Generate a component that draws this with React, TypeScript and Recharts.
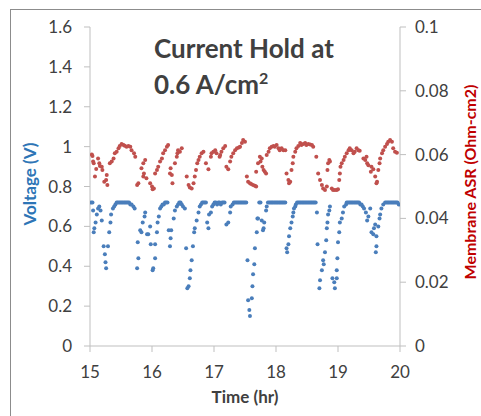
import { Scatter, ScatterChart, XAxis, YAxis } from "recharts";

// time (hr), cell voltage (V)
const voltagePoints: [number, number][] = [
  [15.02, 0.72], [15.04, 0.72], [15.05, 0.68], [15.06, 0.57], [15.07, 0.59], [15.09, 0.62], [15.11, 0.66], [15.13, 0.69], [15.15, 0.7], [15.17, 0.68], [15.19, 0.63],
  [15.22, 0.5], [15.24, 0.46], [15.25, 0.42], [15.26, 0.39], [15.29, 0.5], [15.31, 0.57], [15.33, 0.62], [15.34, 0.66], [15.37, 0.69], [15.39, 0.7], [15.41, 0.71],
  [15.43, 0.72], [15.45, 0.72], [15.47, 0.72], [15.49, 0.72], [15.51, 0.72], [15.53, 0.72], [15.55, 0.72], [15.57, 0.72], [15.59, 0.72], [15.61, 0.72], [15.63, 0.72], [15.65, 0.71], [15.67, 0.71], [15.7, 0.7], [15.72, 0.69],
  [15.76, 0.39], [15.77, 0.52], [15.78, 0.44], [15.81, 0.58], [15.83, 0.57], [15.85, 0.62], [15.88, 0.65], [15.89, 0.67], [15.92, 0.56], [15.94, 0.56], [15.97, 0.6], [15.98, 0.51],
  [16.01, 0.38], [16.02, 0.39], [16.05, 0.44], [16.05, 0.51], [16.08, 0.57], [16.09, 0.62], [16.11, 0.65], [16.13, 0.69], [16.15, 0.7], [16.17, 0.71], [16.19, 0.71], [16.21, 0.72], [16.23, 0.72], [16.25, 0.72],
  [16.27, 0.58], [16.29, 0.5], [16.3, 0.54], [16.31, 0.58], [16.35, 0.64], [16.37, 0.68], [16.4, 0.7], [16.42, 0.71], [16.44, 0.72], [16.46, 0.72], [16.48, 0.71], [16.5, 0.7], [16.53, 0.69],
  [16.55, 0.49], [16.57, 0.29], [16.59, 0.3], [16.61, 0.34], [16.62, 0.38], [16.64, 0.43], [16.66, 0.5], [16.68, 0.57], [16.69, 0.59], [16.72, 0.63], [16.75, 0.67], [16.77, 0.7], [16.79, 0.71], [16.81, 0.72], [16.83, 0.72], [16.85, 0.72], [16.87, 0.72],
  [16.89, 0.62], [16.91, 0.59], [16.92, 0.66], [16.95, 0.67], [16.97, 0.7], [16.99, 0.71], [17.01, 0.72], [17.03, 0.72], [17.05, 0.71], [17.07, 0.72], [17.09, 0.72], [17.11, 0.71], [17.13, 0.72], [17.15, 0.72], [17.17, 0.72],
  [17.2, 0.61], [17.23, 0.62], [17.26, 0.67], [17.27, 0.7], [17.3, 0.71], [17.32, 0.72], [17.34, 0.72], [17.36, 0.72], [17.38, 0.72], [17.4, 0.72], [17.42, 0.72], [17.44, 0.72], [17.46, 0.72], [17.48, 0.72], [17.5, 0.72], [17.52, 0.72],
  [17.54, 0.43], [17.55, 0.23], [17.57, 0.18], [17.58, 0.15], [17.61, 0.24], [17.62, 0.3], [17.63, 0.36], [17.65, 0.41], [17.66, 0.49], [17.69, 0.57], [17.7, 0.64], [17.71, 0.64], [17.73, 0.72], [17.75, 0.72],
  [17.77, 0.63], [17.79, 0.58], [17.8, 0.59], [17.81, 0.62], [17.84, 0.68], [17.85, 0.7], [17.87, 0.72], [17.89, 0.72], [17.91, 0.72], [17.93, 0.72], [17.95, 0.72], [17.97, 0.72], [17.99, 0.72], [18.01, 0.72], [18.03, 0.72], [18.05, 0.72], [18.07, 0.72], [18.09, 0.72], [18.11, 0.72], [18.13, 0.72], [18.15, 0.72],
  [18.17, 0.49], [18.18, 0.47], [18.2, 0.51], [18.21, 0.55], [18.23, 0.59], [18.25, 0.62], [18.27, 0.65], [18.28, 0.67], [18.29, 0.69], [18.31, 0.7], [18.32, 0.71], [18.34, 0.72], [18.36, 0.72], [18.38, 0.72], [18.4, 0.72], [18.42, 0.72], [18.44, 0.72], [18.46, 0.72], [18.48, 0.72], [18.5, 0.72], [18.52, 0.72], [18.54, 0.72], [18.56, 0.72], [18.58, 0.72], [18.6, 0.72], [18.62, 0.72], [18.64, 0.72],
  [18.66, 0.67], [18.67, 0.51], [18.7, 0.29], [18.71, 0.33], [18.74, 0.38], [18.76, 0.43], [18.77, 0.41], [18.79, 0.47], [18.81, 0.53], [18.82, 0.59], [18.83, 0.62], [18.84, 0.66], [18.86, 0.68], [18.87, 0.7],
  [18.91, 0.34], [18.94, 0.32], [18.95, 0.29], [18.98, 0.34], [18.98, 0.38], [18.99, 0.44], [19.0, 0.52], [19.02, 0.57], [19.03, 0.62], [19.06, 0.64], [19.08, 0.67], [19.1, 0.7], [19.13, 0.71], [19.14, 0.72],
  [19.16, 0.72], [19.18, 0.72], [19.2, 0.72], [19.22, 0.72], [19.24, 0.72], [19.26, 0.72], [19.28, 0.72], [19.3, 0.72], [19.32, 0.72], [19.34, 0.72], [19.36, 0.71], [19.38, 0.71], [19.4, 0.7],
  [19.42, 0.69], [19.45, 0.67], [19.47, 0.63], [19.49, 0.65], [19.52, 0.69], [19.54, 0.57], [19.57, 0.56], [19.58, 0.59], [19.6, 0.61], [19.62, 0.55], [19.61, 0.47], [19.62, 0.5], [19.65, 0.6], [19.67, 0.64], [19.68, 0.66], [19.7, 0.69], [19.73, 0.71], [19.76, 0.72],
  [19.78, 0.72], [19.8, 0.72], [19.82, 0.72], [19.84, 0.72], [19.86, 0.72], [19.88, 0.72], [19.9, 0.72], [19.92, 0.72], [19.94, 0.72], [19.96, 0.72], [19.98, 0.71],
];

// time (hr), membrane ASR (Ohm-cm2)
const asrPoints: [number, number][] = [
  [15.03, 0.06], [15.04, 0.0596], [15.05, 0.0578], [15.06, 0.0573], [15.08, 0.0531], [15.1, 0.0555], [15.13, 0.0588], [15.15, 0.0573], [15.16, 0.0564], [15.19, 0.0562], [15.2, 0.0552], [15.23, 0.0515], [15.26, 0.052], [15.27, 0.0536], [15.28, 0.0505],
  [15.32, 0.0573], [15.35, 0.0578], [15.38, 0.0588], [15.4, 0.0604], [15.43, 0.0609], [15.46, 0.062], [15.48, 0.0627], [15.51, 0.0633], [15.54, 0.063], [15.56, 0.0628], [15.59, 0.0625], [15.62, 0.0627], [15.65, 0.0625], [15.67, 0.0614], [15.71, 0.0604], [15.73, 0.0593],
  [15.76, 0.0505], [15.78, 0.051], [15.83, 0.0557], [15.86, 0.0573], [15.89, 0.0583], [15.86, 0.0531], [15.87, 0.0541], [15.91, 0.0526], [15.97, 0.051], [16.0, 0.05], [16.01, 0.0491], [16.03, 0.0494],
  [16.05, 0.0541], [16.08, 0.0552], [16.1, 0.0562], [16.13, 0.0578], [16.16, 0.0588], [16.18, 0.0604], [16.21, 0.0614], [16.24, 0.0625], [16.26, 0.063],
  [16.29, 0.0541], [16.3, 0.0557], [16.32, 0.0536], [16.33, 0.051], [16.37, 0.0573], [16.4, 0.0593], [16.41, 0.0604], [16.42, 0.0614], [16.45, 0.0609], [16.48, 0.062],
  [16.56, 0.0531], [16.59, 0.0505], [16.61, 0.0497], [16.64, 0.0494], [16.67, 0.051], [16.69, 0.0531], [16.71, 0.0552], [16.73, 0.0573], [16.75, 0.0583], [16.77, 0.0593], [16.8, 0.0604], [16.83, 0.0609],
  [16.87, 0.0573], [16.91, 0.0554], [16.95, 0.0593], [16.96, 0.0604], [16.99, 0.0609], [17.02, 0.0614], [17.04, 0.0604], [17.09, 0.0593], [17.1, 0.0599], [17.12, 0.0609], [17.15, 0.062], [17.18, 0.0627],
  [17.2, 0.0562], [17.23, 0.0554], [17.26, 0.0578], [17.28, 0.0593], [17.31, 0.0604], [17.34, 0.0614], [17.37, 0.062], [17.4, 0.0622], [17.42, 0.0625], [17.45, 0.0636], [17.47, 0.0646], [17.5, 0.064],
  [17.53, 0.0531], [17.55, 0.0515], [17.58, 0.051], [17.6, 0.0508], [17.63, 0.0505], [17.66, 0.0502], [17.68, 0.05], [17.68, 0.0546], [17.71, 0.0573], [17.74, 0.0593], [17.75, 0.0578], [17.77, 0.0588], [17.78, 0.0562], [17.8, 0.0552], [17.82, 0.0546], [17.84, 0.0541],
  [17.85, 0.0599], [17.88, 0.0609], [17.9, 0.062], [17.93, 0.0625], [17.96, 0.0627], [17.98, 0.0625], [18.01, 0.063], [18.04, 0.062], [18.06, 0.0614], [18.09, 0.062], [18.12, 0.0614], [18.15, 0.0614],
  [18.17, 0.0541], [18.2, 0.052], [18.21, 0.051], [18.23, 0.0515], [18.25, 0.0552], [18.27, 0.0573], [18.28, 0.0593], [18.31, 0.0609], [18.33, 0.062], [18.36, 0.0627], [18.39, 0.0636], [18.41, 0.063], [18.44, 0.0633], [18.47, 0.0636], [18.49, 0.063], [18.52, 0.0633], [18.55, 0.0632], [18.58, 0.063], [18.6, 0.0625], [18.65, 0.0593],
  [18.68, 0.0541], [18.71, 0.052], [18.74, 0.0505], [18.76, 0.0494], [18.79, 0.0489], [18.82, 0.05], [18.83, 0.0552], [18.84, 0.0573], [18.86, 0.0583], [18.87, 0.0578],
  [18.9, 0.0494], [18.92, 0.0489], [18.95, 0.0489], [18.98, 0.0489], [19.0, 0.0491], [19.02, 0.052], [19.03, 0.0541], [19.04, 0.0562], [19.06, 0.0573], [19.09, 0.0583], [19.11, 0.0593], [19.14, 0.0604], [19.17, 0.0614], [19.19, 0.062], [19.22, 0.0614], [19.25, 0.0604], [19.27, 0.0609], [19.3, 0.062], [19.33, 0.0614], [19.35, 0.0612],
  [19.41, 0.0588], [19.44, 0.0583], [19.46, 0.0593], [19.47, 0.0573], [19.49, 0.0567], [19.53, 0.0546], [19.54, 0.0562], [19.57, 0.0554], [19.6, 0.0531], [19.62, 0.051], [19.63, 0.0515],
  [19.65, 0.0552], [19.67, 0.0573], [19.68, 0.0588], [19.71, 0.0604], [19.73, 0.0614], [19.76, 0.0625], [19.79, 0.0633], [19.81, 0.064], [19.84, 0.0646], [19.87, 0.064], [19.89, 0.062], [19.92, 0.0609], [19.95, 0.0606],
];

const timeTicks = [15, 16, 17, 18, 19, 20];
const voltageTicks = [0, 0.2, 0.4, 0.6, 0.8, 1, 1.2, 1.4, 1.6];
const asrTicks = [0, 0.02, 0.04, 0.06, 0.08, 0.1];

const FONT = "Lato, 'Open Sans', sans-serif";
const BLUE = "#4a7ebb";
const RED = "#c0504d";
const AXIS = "#bfbfbf";
const TEXT = "#404040";

const voltageData = voltagePoints.map(([t, v]) => ({ t, v }));
const asrData = asrPoints.map(([t, r]) => ({ t, r }));

const dot = (fill: string) => (p: any) =>
  <circle cx={p.cx} cy={p.cy} r={2} fill={fill} />;

const tick = { fontSize: 17, fill: TEXT, fontFamily: FONT };

export default function App() {
  return (
    <div style={{ position: "absolute", left: 0, top: 0, width: 481, height: 416, overflow: "hidden", background: "#fff" }}>
      <div
        style={{
          position: "absolute",
          left: 10,
          top: 9,
          width: 500,
          height: 440,
          border: "1px solid #8c8c8c",
        }}
      />
      <ScatterChart
        width={481}
        height={416}
        margin={{ top: 27, right: 0, bottom: 30, left: 0 }}
        style={{ position: "absolute", left: 0, top: 0 }}
      >
        <XAxis
          type="number"
          dataKey="t"
          domain={[15, 20]}
          ticks={timeTicks}
          height={40}
          stroke={AXIS}
          tickMargin={14}
          tick={tick}
          allowDataOverflow
        />
        <YAxis
          yAxisId="v"
          type="number"
          dataKey="v"
          domain={[0, 1.6]}
          ticks={voltageTicks}
          width={90}
          stroke={AXIS}
          tickMargin={12}
          tick={tick}
        />
        <YAxis
          yAxisId="r"
          orientation="right"
          type="number"
          dataKey="r"
          domain={[0, 0.1]}
          ticks={asrTicks}
          width={81}
          stroke={AXIS}
          tickMargin={9}
          tick={tick}
        />
        <Scatter
          yAxisId="v"
          data={voltageData}
          fill={BLUE}
          shape={dot(BLUE)}
          isAnimationActive={false}
        />
        <Scatter
          yAxisId="r"
          data={asrData}
          fill={RED}
          shape={dot(RED)}
          isAnimationActive={false}
        />
      </ScatterChart>
      <svg
        width={481}
        height={416}
        style={{ position: "absolute", left: 0, top: 0, pointerEvents: "none" }}
      >
        <g fontFamily={FONT} fontWeight="bold">
          <text x={154} y={58} fontSize={26} fill={TEXT}>
            Current Hold at
          </text>
          <text x={154} y={94} fontSize={26} fill={TEXT}>
            0.6 A/cm
            <tspan fontSize={16} dy={-10}>2</tspan>
          </text>
          <text x={245} y={403} fontSize={17} fill={TEXT} textAnchor="middle">
            Time (hr)
          </text>
          <text
            x={36}
            y={184}
            fontSize={17}
            fill="#2e75b6"
            textAnchor="middle"
            transform="rotate(-90 36 184)"
          >
            Voltage (V)
          </text>
          <text
            x={476}
            y={182}
            fontSize={16}
            fill="#c00000"
            textAnchor="middle"
            transform="rotate(-90 476 182)"
          >
            Membrane ASR (Ohm-cm2)
          </text>
        </g>
      </svg>
    </div>
  );
}
